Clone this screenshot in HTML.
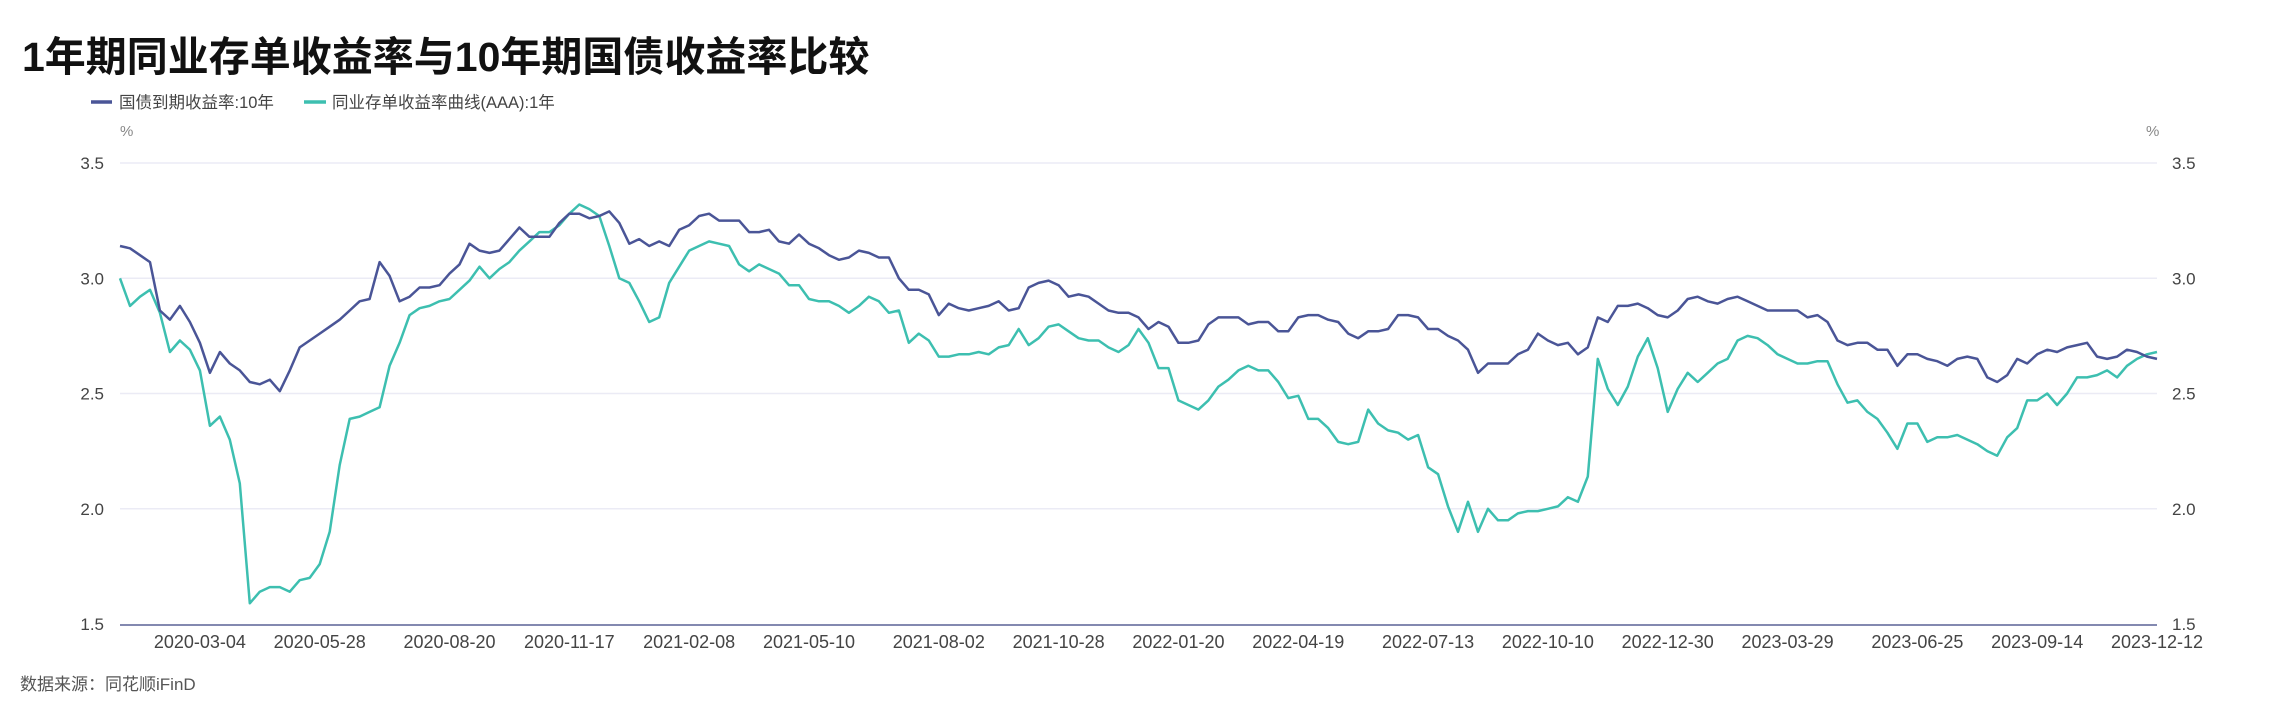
<!DOCTYPE html>
<html><head><meta charset="utf-8"><style>
html,body{margin:0;padding:0;background:#fff;}
svg{display:block;font-family:"Liberation Sans","Noto Sans CJK SC",sans-serif;}
</style></head><body>
<svg id="chart" width="2278" height="717" viewBox="0 0 2278 717" xmlns="http://www.w3.org/2000/svg">
<text x="22" y="71" font-size="41" font-weight="bold" fill="#111">1年期同业存单收益率与10年期国债收益率比较</text>
<g>
  <g>
    <line x1="91" y1="102" x2="112" y2="102" stroke="#4a5597" stroke-width="3.5"/>
    <text x="119" y="108" font-size="16.5" fill="#444">国债到期收益率:10年</text>
  </g>
  <g>
    <line x1="304" y1="102" x2="326" y2="102" stroke="#3dbfb0" stroke-width="3.5"/>
    <text x="332" y="108" font-size="16.5" fill="#444">同业存单收益率曲线(AAA):1年</text>
  </g>
</g>
<text x="120" y="136" font-size="15" fill="#888">%</text>
<text x="2146" y="136" font-size="15" fill="#888">%</text>
<g id="grid"></g>
<g id="axes"></g>
<g id="series"></g>
<text x="20" y="690" font-size="17" fill="#555">数据来源：同花顺iFinD</text>
</svg>
<script>
const yTicks = [1.5, 2.0, 2.5, 3.0, 3.5];
const xLabels = ["2020-03-04","2020-05-28","2020-08-20","2020-11-17","2021-02-08","2021-05-10","2021-08-02","2021-10-28","2022-01-20","2022-04-19","2022-07-13","2022-10-10","2022-12-30","2023-03-29","2023-06-25","2023-09-14","2023-12-12"];
const xLabelIdx = [8,20,33,45,57,69,82,94,106,118,131,143,155,167,180,192,204];
const bond10y = [3.14,3.13,3.10,3.07,2.86,2.82,2.88,2.81,2.72,2.59,2.68,2.63,2.60,2.55,2.54,2.56,2.51,2.60,2.70,2.73,2.76,2.79,2.82,2.86,2.90,2.91,3.07,3.01,2.90,2.92,2.96,2.96,2.97,3.02,
3.06,3.15,3.12,3.11,3.12,3.17,3.22,3.18,3.18,3.18,3.24,3.28,3.28,3.26,3.27,3.29,3.24,3.15,3.17,3.14,3.16,3.14,3.21,3.23,3.27,3.28,3.25,3.25,3.25,3.20,3.20,3.21,3.16,3.15,
3.19,3.15,3.13,3.10,3.08,3.09,3.12,3.11,3.09,3.09,3.00,2.95,2.95,2.93,2.84,2.89,2.87,2.86,2.87,2.88,2.90,2.86,2.87,2.96,2.98,2.99,2.97,2.92,2.93,2.92,2.89,2.86,2.85,2.85,
2.83,2.78,2.81,2.79,2.72,2.72,2.73,2.80,2.83,2.83,2.83,2.80,2.81,2.81,2.77,2.77,2.83,2.84,2.84,2.82,2.81,2.76,2.74,2.77,2.77,2.78,2.84,2.84,2.83,2.78,2.78,2.75,2.73,2.69,
2.59,2.63,2.63,2.63,2.67,2.69,2.76,2.73,2.71,2.72,2.67,2.70,2.83,2.81,2.88,2.88,2.89,2.87,2.84,2.83,2.86,2.91,2.92,2.90,2.89,2.91,2.92,2.90,2.88,2.86,2.86,2.86,2.86,2.83,
2.84,2.81,2.73,2.71,2.72,2.72,2.69,2.69,2.62,2.67,2.67,2.65,2.64,2.62,2.65,2.66,2.65,2.57,2.55,2.58,2.65,2.63,2.67,2.69,2.68,2.70,2.71,2.72,2.66,2.65,2.66,2.69,2.68,2.66,2.65];
const ncd1y = [3.00,2.88,2.92,2.95,2.85,2.68,2.73,2.69,2.60,2.36,2.40,2.30,2.11,1.59,1.64,1.66,1.66,1.64,1.69,1.70,1.76,1.90,2.19,2.39,2.40,2.42,2.44,2.62,2.72,2.84,2.87,2.88,2.90,2.91,
2.95,2.99,3.05,3.00,3.04,3.07,3.12,3.16,3.20,3.20,3.23,3.28,3.32,3.30,3.27,3.14,3.00,2.98,2.90,2.81,2.83,2.98,3.05,3.12,3.14,3.16,3.15,3.14,3.06,3.03,3.06,3.04,3.02,2.97,
2.97,2.91,2.90,2.90,2.88,2.85,2.88,2.92,2.90,2.85,2.86,2.72,2.76,2.73,2.66,2.66,2.67,2.67,2.68,2.67,2.70,2.71,2.78,2.71,2.74,2.79,2.80,2.77,2.74,2.73,2.73,2.70,2.68,2.71,
2.78,2.72,2.61,2.61,2.47,2.45,2.43,2.47,2.53,2.56,2.60,2.62,2.60,2.60,2.55,2.48,2.49,2.39,2.39,2.35,2.29,2.28,2.29,2.43,2.37,2.34,2.33,2.30,2.32,2.18,2.15,2.01,1.90,2.03,
1.90,2.00,1.95,1.95,1.98,1.99,1.99,2.00,2.01,2.05,2.03,2.14,2.65,2.52,2.45,2.53,2.66,2.74,2.61,2.42,2.52,2.59,2.55,2.59,2.63,2.65,2.73,2.75,2.74,2.71,2.67,2.65,2.63,2.63,
2.64,2.64,2.54,2.46,2.47,2.42,2.39,2.33,2.26,2.37,2.37,2.29,2.31,2.31,2.32,2.30,2.28,2.25,2.23,2.31,2.35,2.47,2.47,2.50,2.45,2.50,2.57,2.57,2.58,2.60,2.57,2.62,2.65,2.67,2.68];

const NS = "http://www.w3.org/2000/svg";
const X0 = 120, X1 = 2157, Y0 = 624, Y1 = 163;
const YMIN = 1.5, YMAX = 3.5;
const N = bond10y.length;
function xScale(i){ return X0 + i * (X1 - X0) / (N - 1); }
function yScale(v){ return Y0 - (v - YMIN) / (YMAX - YMIN) * (Y0 - Y1); }
function mk(tag, attrs){ const e = document.createElementNS(NS, tag); for (const k in attrs) e.setAttribute(k, attrs[k]); return e; }

const grid = document.getElementById('grid');
const axes = document.getElementById('axes');
yTicks.forEach(function(t){
  const y = yScale(t);
  if (t !== YMIN) {
    const g = mk('line', {x1: X0, x2: X1, y1: y, y2: y, stroke: '#ebebf5', 'stroke-width': 1.5});
    
    
    grid.appendChild(g);
  }
  const l = mk('text', {x: 104, y: y + 6, 'font-size': 17, fill: '#444', 'text-anchor': 'end'});
  
  
  l.textContent = t.toFixed(1);
  axes.appendChild(l);
  const r = mk('text', {x: 2172, y: y + 6, 'font-size': 17, fill: '#444'});
  
  
  r.textContent = t.toFixed(1);
  axes.appendChild(r);
});
const ax = mk('line', {x1: X0, x2: X1, y1: Y0 + 1, y2: Y0 + 1, stroke: '#5a6296', 'stroke-width': 1.5});


axes.appendChild(ax);
xLabels.forEach(function(lab, k){
  const t = mk('text', {x: xScale(xLabelIdx[k]), y: 648, 'font-size': 18, fill: '#444', 'text-anchor': 'middle'});
  
  
  t.textContent = lab;
  axes.appendChild(t);
});

const series = document.getElementById('series');
function drawLine(vals, color, name){
  let d = '';
  vals.forEach(function(v, i){ d += (i ? 'L' : 'M') + xScale(i).toFixed(1) + ',' + yScale(v).toFixed(1); });
  const p = mk('path', {d: d, fill: 'none', stroke: color, 'stroke-width': 2.5, 'stroke-linejoin': 'round'});
  
  
  series.appendChild(p);
}
drawLine(ncd1y, '#3dbfb0', 'ncd-1y-line');
drawLine(bond10y, '#4a5597', 'bond-10y-line');
</script>
</body></html>
